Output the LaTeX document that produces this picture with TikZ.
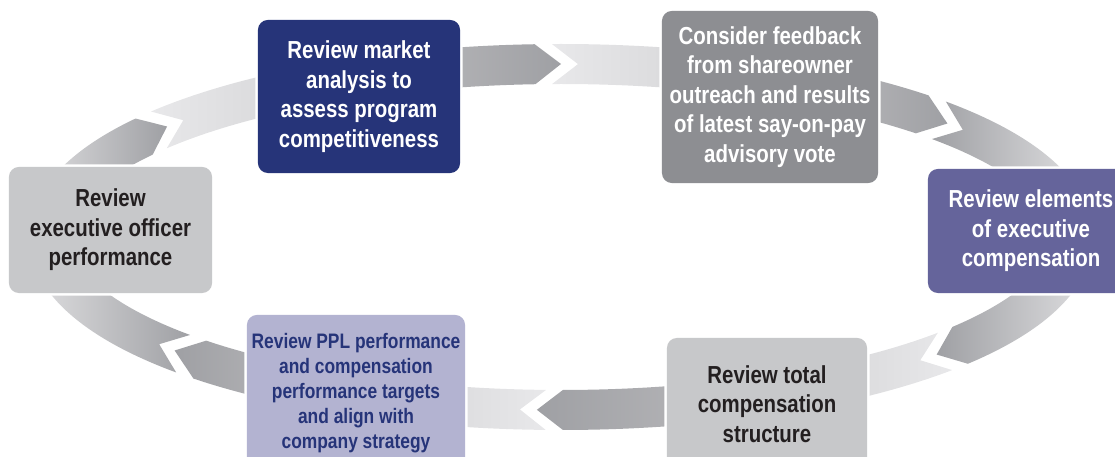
\documentclass[tikz,border=0pt]{standalone}
\usepackage{fontspec}
\newfontfamily\cyclefont{Liberation Sans}[FakeStretch=0.83]
\usepackage{tikz}
\usetikzlibrary{positioning}

\definecolor{cyclenavy}{HTML}{263479}
\definecolor{cyclegray}{HTML}{8D8E92}
\definecolor{cyclepurple}{HTML}{65649B}
\definecolor{cyclesilver}{HTML}{C7C8CA}
\definecolor{cyclelavender}{HTML}{B3B3D1}
\definecolor{cycleink}{HTML}{231F20}
\definecolor{armdark}{HTML}{9FA0A4}
\definecolor{armmid}{HTML}{B3B3B6}
\definecolor{armlight}{HTML}{D9D9DB}
\definecolor{armpale}{HTML}{E8E8EA}

% points on the ring: angle, offset from the middle line
\pgfmathdeclarefunction{ringx}{2}{\pgfmathparse{561+512*cos(#1)+(#2)*1.73*cos(#1)/veclen(1.73*cos(#1),5.12*sin(#1))}}
\pgfmathdeclarefunction{ringy}{2}{\pgfmathparse{237-173*sin(#1)-(#2)*5.12*sin(#1)/veclen(1.73*cos(#1),5.12*sin(#1))}}

% arm with a pointed end: start angle, tip angle, left colour, right colour
\newcommand{\armtail}[4]{%
  \pgfmathsetmacro\armback{#2+26/(1.745329*veclen(5.12*sin(#2),1.73*cos(#2)))}%
  \shade[left color=#3, right color=#4]
    plot[domain=#1:\armback, samples=30] ({ringx(\x,20)},{ringy(\x,20)})
    -- ({ringx(#2,0)},{ringy(#2,0)})
    -- plot[domain=\armback:#1, samples=30] ({ringx(\x,-20)},{ringy(\x,-20)})
    -- cycle;}

% arm with a notched end: tip angle, end angle, left colour, right colour
\newcommand{\armhead}[4]{%
  \pgfmathsetmacro\armback{#1+9/(1.745329*veclen(5.12*sin(#1),1.73*cos(#1)))}%
  \pgfmathsetmacro\armnotch{#1-17/(1.745329*veclen(5.12*sin(#1),1.73*cos(#1)))}%
  \shade[left color=#3, right color=#4]
    plot[domain=\armback:#2, samples=30] ({ringx(\x,20)},{ringy(\x,20)})
    -- plot[domain=#2:\armback, samples=30] ({ringx(\x,-20)},{ringy(\x,-20)})
    -- ({ringx(\armnotch,0)},{ringy(\armnotch,0)})
    -- cycle;}

\begin{document}
\begin{tikzpicture}[
                x=0.025cm, y=-0.025cm,
                % Define styles for boxes
                cycle box/.style={rectangle, rounded corners=7pt, inner sep=0pt, align=center,
                    font=\cyclefont\bfseries\fontsize{17.5}{21}\selectfont,
                    preaction={draw=white, line width=3.6pt}},
                navy box/.style={cycle box, fill=cyclenavy, text=white},
                gray box/.style={cycle box, fill=cyclegray, text=white},
                purple box/.style={cycle box, fill=cyclepurple, text=white},
                silver box/.style={cycle box, fill=cyclesilver, text=cycleink},
                lavender box/.style={cycle box, fill=cyclelavender, text=cyclenavy,
                    font=\cyclefont\bfseries\fontsize{14.9}{17.8}\selectfont}
            ]
                \useasboundingbox (0,0) rectangle (1115,457);
                \clip (0,0) rectangle (1115,457);

                % Draw the arms of the ring
                \armtail{104}{90}{armmid}{armdark}
                \armhead{90}{76}{armpale}{armlight}
                \armtail{55}{41}{armmid}{armdark}
                \armhead{41}{15}{armdark}{armlight}
                \armtail{-12}{-42.8}{armdark}{armlight}
                \armhead{-42.8}{-57}{armlight}{armpale}
                \armtail{-75}{-92.7}{armdark}{armmid}
                \armhead{-92.7}{-106}{armlight}{armpale}
                \armtail{-123}{-139}{armdark}{armmid}
                \armhead{-139}{-168}{armlight}{armdark}
                \armtail{168}{140.3}{armlight}{armdark}
                \armhead{140.3}{124}{armpale}{armlight}

                % Define nodes
                \node[silver box, minimum width=5.075cm, minimum height=3.15cm] (exec) at (110.5,230)
                    {Review\\executive officer\\performance};
                \node[navy box, minimum width=5.05cm, minimum height=3.825cm] (market) at (359,96.5)
                    {Review market\\analysis to\\assess program\\competitiveness};
                \node[gray box, minimum width=5.4cm, minimum height=4.3cm] (feedback) at (770,97)
                    {Consider feedback\\from shareowner\\outreach and results\\of latest say-on-pay\\advisory vote};
                \node[purple box, minimum width=5.15cm, minimum height=3.1cm] (elements) at (1031,231)
                    {Review elements\\of executive\\compensation};
                \node[silver box, minimum width=5cm, minimum height=3.3cm] (total) at (767,404)
                    {Review total\\compensation\\structure};
                \node[lavender box, minimum width=5.45cm, minimum height=3.9cm] (ppl) at (356,393)
                    {Review PPL performance\\and compensation\\performance targets\\and align with\\company strategy};
            \end{tikzpicture}
\end{document}
